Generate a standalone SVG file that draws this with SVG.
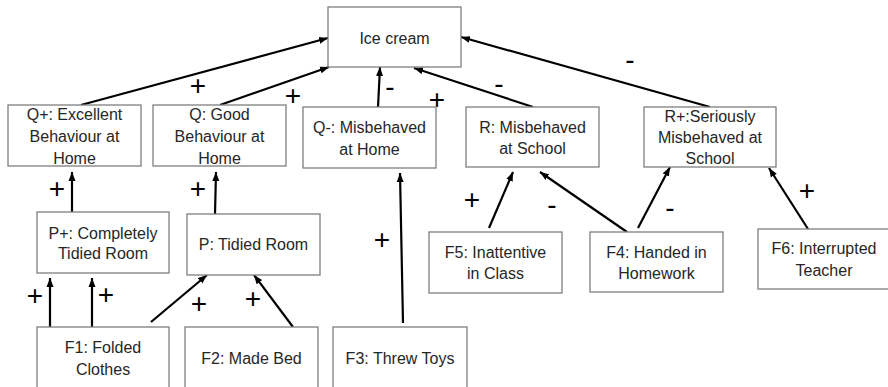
<svg xmlns="http://www.w3.org/2000/svg" width="888" height="387" viewBox="0 0 888 387">
<defs>
<marker id="ah" markerUnits="userSpaceOnUse" markerWidth="10" markerHeight="8" refX="9" refY="4" orient="auto">
<path d="M0,0.5 L9,4 L0,7.5 Z" fill="#000"/>
</marker>
<style>
.box{fill:#fff;stroke:#7f7f7f;stroke-width:1.3}
.t{font-family:"Liberation Sans",Arial,sans-serif;font-size:16px;fill:#262626;text-anchor:middle}
.c{stroke:#000;stroke-width:2.2;fill:none;marker-end:url(#ah)}
.l{font-family:"Liberation Sans",Arial,sans-serif;font-size:28px;fill:#000;text-anchor:middle}
</style>
</defs>
<rect width="888" height="387" fill="#fff"/>
<g id="connectors">
<line class="c" x1="81" y1="105" x2="328" y2="38"/>
<line class="c" x1="220" y1="105" x2="329" y2="67"/>
<line class="c" x1="378" y1="107" x2="380" y2="67"/>
<line class="c" x1="533" y1="107" x2="414" y2="68"/>
<line class="c" x1="710" y1="107" x2="461" y2="37"/>
<line class="c" x1="72" y1="212" x2="72" y2="172"/>
<line class="c" x1="215" y1="214" x2="216" y2="172"/>
<line class="c" x1="403" y1="323" x2="400" y2="173"/>
<line class="c" x1="50" y1="327" x2="50" y2="278"/>
<line class="c" x1="92" y1="327" x2="92" y2="278"/>
<line class="c" x1="151" y1="322" x2="207" y2="275"/>
<line class="c" x1="293" y1="327" x2="254" y2="275"/>
<line class="c" x1="489" y1="228" x2="513" y2="172"/>
<line class="c" x1="627" y1="232" x2="540" y2="172"/>
<line class="c" x1="638" y1="228" x2="670" y2="167"/>
<line class="c" x1="808" y1="229" x2="769" y2="168"/>
<text class="l" x="198" y="95">+</text>
<text class="l" x="293" y="105">+</text>
<text class="l" x="390" y="96">-</text>
<text class="l" x="437" y="109">+</text>
<text class="l" x="499" y="93">-</text>
<text class="l" x="630" y="69">-</text>
<text class="l" x="57" y="198">+</text>
<text class="l" x="198" y="198">+</text>
<text class="l" x="382" y="249">+</text>
<text class="l" x="472" y="209">+</text>
<text class="l" x="552" y="214">-</text>
<text class="l" x="670" y="217">-</text>
<text class="l" x="807" y="200">+</text>
<text class="l" x="35" y="305">+</text>
<text class="l" x="106" y="304">+</text>
<text class="l" x="199" y="313">+</text>
<text class="l" x="253" y="308">+</text>
</g>
<g id="ice"><rect class="box" x="328" y="7" width="133" height="60"/><text class="t" x="394.5" y="44">Ice cream</text></g>
<g id="qplus"><rect class="box" x="8" y="105" width="133" height="61"/><text class="t" x="74.5" y="120">Q+: Excellent</text><text class="t" x="74.5" y="142">Behaviour at</text><text class="t" x="74.5" y="164">Home</text></g>
<g id="q"><rect class="box" x="153" y="105" width="133" height="61"/><text class="t" x="219.5" y="120">Q: Good</text><text class="t" x="219.5" y="142">Behaviour at</text><text class="t" x="219.5" y="164">Home</text></g>
<g id="qminus"><rect class="box" x="303" y="107" width="133" height="61"/><text class="t" x="369.5" y="133">Q-: Misbehaved</text><text class="t" x="369.5" y="155">at Home</text></g>
<g id="r"><rect class="box" x="466" y="107" width="133" height="60"/><text class="t" x="532.5" y="133">R: Misbehaved</text><text class="t" x="532.5" y="154">at School</text></g>
<g id="rplus"><rect class="box" x="644" y="107" width="132" height="60"/><text class="t" x="710" y="122">R+:Seriously</text><text class="t" x="710" y="143">Misbehaved at</text><text class="t" x="710" y="164">School</text></g>
<g id="pplus"><rect class="box" x="37" y="212" width="132" height="61"/><text class="t" x="103" y="239">P+: Completely</text><text class="t" x="103" y="259">Tidied Room</text></g>
<g id="p"><rect class="box" x="187" y="214" width="133" height="61"/><text class="t" x="253.5" y="250">P: Tidied Room</text></g>
<g id="f1"><rect class="box" x="37" y="327" width="132" height="70"/><text class="t" x="103" y="353">F1: Folded</text><text class="t" x="103" y="375">Clothes</text></g>
<g id="f2"><rect class="box" x="185" y="327" width="133" height="70"/><text class="t" x="251.5" y="364">F2: Made Bed</text></g>
<g id="f3"><rect class="box" x="333" y="327" width="134" height="70"/><text class="t" x="400" y="364">F3: Threw Toys</text></g>
<g id="f5"><rect class="box" x="429" y="232" width="133" height="61"/><text class="t" x="495.5" y="258">F5: Inattentive</text><text class="t" x="495.5" y="279">in Class</text></g>
<g id="f4"><rect class="box" x="590" y="232" width="133" height="60"/><text class="t" x="656.5" y="258">F4: Handed in</text><text class="t" x="656.5" y="279">Homework</text></g>
<g id="f6"><rect class="box" x="758" y="229" width="140" height="60"/><text class="t" x="824" y="254">F6: Interrupted</text><text class="t" x="824" y="276">Teacher</text></g>
</svg>
